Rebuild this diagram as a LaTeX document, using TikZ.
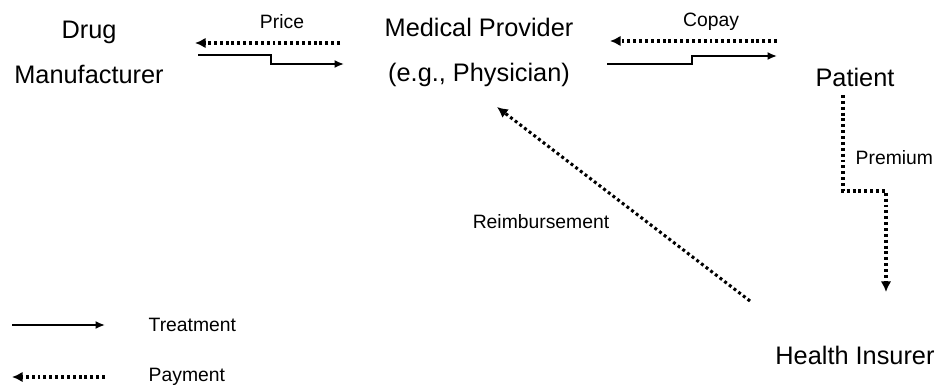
\documentclass[tikz,border=0pt]{standalone}
\usepackage{fontspec}
\setmainfont{Liberation Sans}
\usetikzlibrary{arrows,arrows.meta,calc,positioning,shapes}

\begin{document}
\begin{tikzpicture}[x=0.75pt,y=-0.75pt,
        big/.style={align=center,font=\fontsize{19}{33.75}\selectfont},
        small/.style={font=\fontsize{14.5}{17}\selectfont},
        treat/.style={-{Latex[length=7pt,width=6pt]},line width=1.4pt},
        pay/.style={-{Latex[length=8pt,width=8pt]},line width=2.3pt,dash pattern=on 2.2pt off 2.2pt}]
            \useasboundingbox (0,0) rectangle (943,385);
            \node[big] (M) at (89,52.5) {Drug\\Manufacturer};
            \node[big] (P) at (479,52.5) {Medical Provider\\(e.g., Physician)};
            \node[big] (T) at (855,77) {Patient};
            \node[big] (H) at (855,355) {Health Insurer};
            \node[small] (price) at (282,22) {Price};
            \node[small] (copay) at (711,22) {Copay};
            \node[small,anchor=west] (premium) at (851,158) {Premium};
            \node[small] (reimb) at (541,222) {Reimbursement};
            \node[small,anchor=west] (ltreat) at (144,325) {Treatment};
            \node[small,anchor=west] (lpay) at (144,377) {Payment};
            % arrow ends
            \coordinate (p1) at (340,43);
            \coordinate (p2) at (195,43);
            \coordinate (t1) at (198,55);
            \coordinate (t2) at (344,64);
            \coordinate (c1) at (777,41);
            \coordinate (c2) at (610,41);
            \coordinate (u1) at (607,64);
            \coordinate (u2) at (777,56);
            \coordinate (r1) at (843,95);
            \coordinate (r2) at (886,292);
            \coordinate (i1) at (750,301);
            \coordinate (i2) at (497,107);
            \coordinate (l1) at (12,325);
            \coordinate (l2) at (105,325);
            \coordinate (l3) at (105,377);
            \coordinate (l4) at (12,377);
            \draw[pay] (p1) to (p2);
            \draw[treat] (t1) -- (271,55) -- (271,64) -- (t2);
            \draw[pay] (c1) to (c2);
            \draw[treat] (u1) -- (692,64) -- (692,56) -- (u2);
            \draw[pay] (r1) -- (843,191) -- (886,191) -- (r2);
            \draw[pay] (i1) to (i2);
            \draw[treat] (l1) to (l2);
            \draw[pay] (l3) to (l4);
        \end{tikzpicture}
\end{document}
